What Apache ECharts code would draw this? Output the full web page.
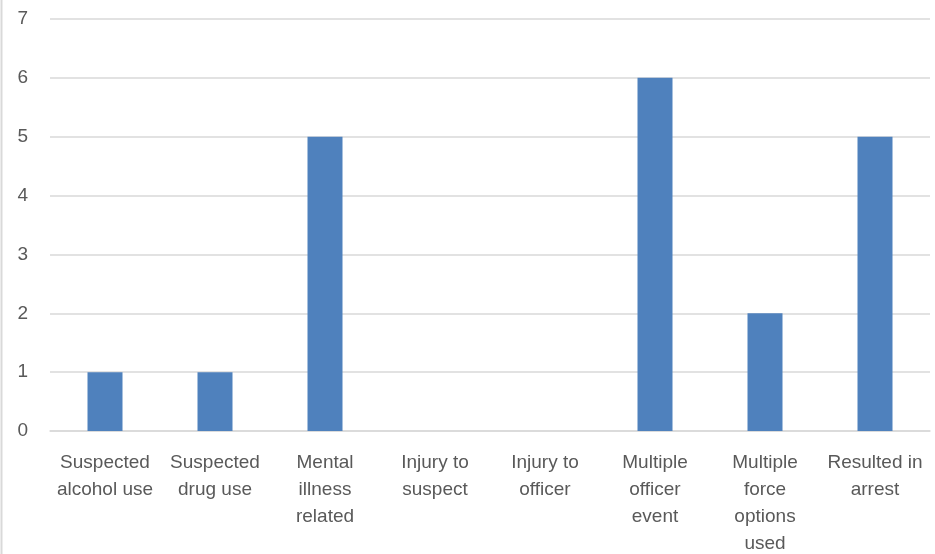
<!DOCTYPE html>
<html><head><meta charset="utf-8">
<script src="https://cdn.jsdelivr.net/npm/echarts@6/dist/echarts.min.js"></script>
<style>html,body{margin:0;padding:0;background:#fff}#c{width:935px;height:554px}</style>
</head><body><div id="c"></div>
<script>
const categories = ["Suspected\nalcohol use","Suspected\ndrug use","Mental\nillness\nrelated","Injury to\nsuspect","Injury to\nofficer","Multiple\nofficer\nevent","Multiple\nforce\noptions\nused","Resulted in\narrest"];
const values = [1,1,5,0,0,6,2,5];
const yTicks = [0,1,2,3,4,5,6,7];
const chart = echarts.init(document.getElementById('c'));
chart.setOption({
  animation:false,
  grid:{left:50,right:5,top:19,bottom:123,containLabel:false,outerBoundsMode:'none'},
  graphic:[{type:'line',shape:{x1:1.5,y1:0,x2:1.5,y2:554},style:{stroke:'#d9d9d9',lineWidth:2}}],
  xAxis:{type:'category',data:categories,
    axisLine:{lineStyle:{color:'#d9d9d9',width:1.5}},axisTick:{show:false},
    axisLabel:{color:'#595959',fontFamily:'Liberation Sans',fontSize:19,lineHeight:27,margin:18,interval:0}},
  yAxis:{type:'value',min:yTicks[0],max:yTicks[yTicks.length-1],interval:1,
    axisLine:{show:false},axisTick:{show:false},
    splitLine:{lineStyle:{color:'#d9d9d9',width:1.5}},
    axisLabel:{color:'#595959',fontFamily:'Liberation Sans',fontSize:19,margin:22}},
  series:[{type:'bar',data:values,barWidth:35,itemStyle:{color:'#4f81bd'}}]
});
</script></body></html>
